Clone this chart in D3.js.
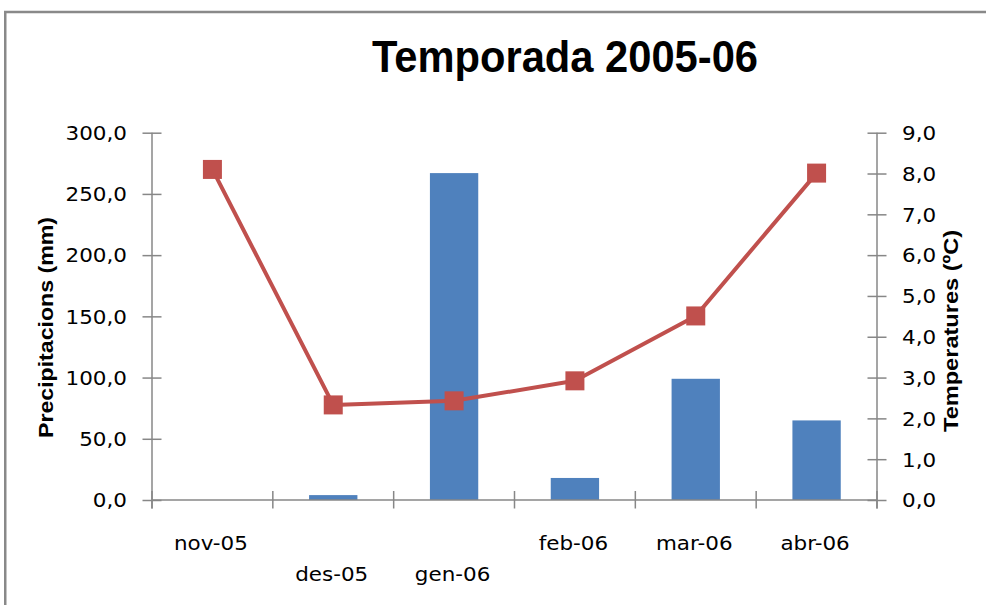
<!DOCTYPE html>
<html>
<head>
<meta charset="utf-8">
<script src="https://cdn.jsdelivr.net/npm/d3@7/dist/d3.min.js"></script>
<style>
  html, body { margin: 0; padding: 0; background: #fff; }
  svg { display: block; }
</style>
</head>
<body>
<svg id="chart" width="986" height="605"></svg>
<script>
// ---- data ----
const categories = ["nov-05", "des-05", "gen-06", "feb-06", "mar-06", "abr-06"];
const precipitation = [0, 4, 267, 18, 99, 65];        // mm (bars, left axis)
const temperature = [8.1, 2.33, 2.43, 2.92, 4.51, 8.01]; // ºC (line, right axis)
const leftTicks = [0, 50, 100, 150, 200, 250, 300];
const rightTicks = [0, 1, 2, 3, 4, 5, 6, 7, 8, 9];
const labelRows = [0, 1, 1, 0, 0, 0]; // staggered category labels

const titleText = "Temporada 2005-06";
const leftTitle = "Precipitacions (mm)";
const rightTitle = "Temperatures (ºC)";

// ---- layout ----
const svg = d3.select("#chart");
const plot = { left: 152, right: 877, top: 132.7, bottom: 500 };
const axisColor = "#878787";
const tickFont = "'DejaVu Sans', sans-serif";
const stretchK = 1.13;

function stretch(sel, k) {
  sel.each(function () {
    const w = this.getComputedTextLength();
    d3.select(this).attr("textLength", w * k).attr("lengthAdjust", "spacingAndGlyphs");
  });
}

const x = d3.scaleBand().domain(categories).range([plot.left, plot.right]).paddingInner(0).paddingOuter(0);
const barPad = 0.3; // each side fraction of band
const yL = d3.scaleLinear().domain([0, 300]).range([plot.bottom, plot.top]);
const yR = d3.scaleLinear().domain([0, 9]).range([plot.bottom, plot.top]);
const fmt = v => d3.format(".1f")(v).replace(".", ",");

// frame
svg.append("rect").attr("x", 5.25).attr("y", 12).attr("width", 1100).attr("height", 800)
  .attr("fill", "#fff").attr("stroke", "#898989").attr("stroke-width", 2.5);

// title
svg.append("text").attr("x", 565).attr("y", 71.7).attr("text-anchor", "middle")
  .attr("font-family", "'Liberation Sans', Arial, sans-serif").attr("font-weight", "bold")
  .attr("font-size", 44).attr("fill", "#000")
  .attr("textLength", 386).attr("lengthAdjust", "spacingAndGlyphs")
  .text(titleText);

// bars
svg.append("g").selectAll("rect").data(categories).join("rect")
  .attr("x", (d) => x(d) + x.bandwidth() * barPad)
  .attr("width", x.bandwidth() * (1 - 2 * barPad))
  .attr("y", (d, i) => yL(precipitation[i]))
  .attr("height", (d, i) => yL(0) - yL(precipitation[i]))
  .attr("fill", "#4F81BD");

// x axis line and ticks (at category boundaries)
const gx = svg.append("g");
gx.append("line").attr("x1", plot.left).attr("x2", plot.right).attr("y1", plot.bottom).attr("y2", plot.bottom)
  .attr("stroke", axisColor).attr("stroke-width", 1.5);
const bounds = categories.map(c => x(c)).concat([plot.right]);
gx.selectAll("line.t").data(bounds).join("line").attr("class", "t")
  .attr("x1", d => d).attr("x2", d => d).attr("y1", plot.bottom - 9).attr("y2", plot.bottom + 8.5)
  .attr("stroke", axisColor).attr("stroke-width", 1.5);
gx.selectAll("text").data(categories).join("text")
  .attr("x", d => x(d) + x.bandwidth() / 2 - 1.5)
  .attr("y", (d, i) => labelRows[i] ? 581 : 550)
  .attr("text-anchor", "middle").attr("font-family", tickFont).attr("font-size", 19).attr("fill", "#000")
  .text(d => d)
  .call(stretch, stretchK);

// left axis
const gL = svg.append("g").attr("transform", `translate(${plot.left},0)`)
  .call(d3.axisLeft(yL).tickValues(leftTicks).tickFormat(fmt).tickSize(9.5).tickSizeOuter(0).tickPadding(15.5));
gL.select(".domain").remove();
gL.append("line").attr("x1", 0).attr("x2", 0).attr("y1", plot.top).attr("y2", plot.bottom + 8.5)
  .attr("stroke", axisColor).attr("stroke-width", 1.5);
gL.selectAll(".tick line").attr("x1", 9.5).attr("stroke", axisColor).attr("stroke-width", 1.5);
gL.selectAll(".tick text").attr("font-family", tickFont).attr("font-size", 19).attr("fill", "#000")
  .attr("dy", "0.36em").call(stretch, stretchK);

// right axis
const gR = svg.append("g").attr("transform", `translate(${plot.right},0)`)
  .call(d3.axisRight(yR).tickValues(rightTicks).tickFormat(fmt).tickSize(9.5).tickSizeOuter(0).tickPadding(15.5));
gR.select(".domain").remove();
gR.append("line").attr("x1", 0).attr("x2", 0).attr("y1", plot.top).attr("y2", plot.bottom + 8.5)
  .attr("stroke", axisColor).attr("stroke-width", 1.5);
gR.selectAll(".tick line").attr("x1", -9.5).attr("stroke", axisColor).attr("stroke-width", 1.5);
gR.selectAll(".tick text").attr("font-family", tickFont).attr("font-size", 19).attr("fill", "#000")
  .attr("dy", "0.36em").call(stretch, stretchK);

// axis titles
svg.append("text").attr("transform", "translate(53,327.5) rotate(-90)").attr("text-anchor", "middle")
  .attr("font-family", "'Liberation Sans', Arial, sans-serif").attr("font-weight", "bold").attr("font-size", 20)
  .attr("fill", "#000").attr("textLength", 221).attr("lengthAdjust", "spacingAndGlyphs").text(leftTitle);
svg.append("text").attr("transform", "translate(958,331) rotate(-90)").attr("text-anchor", "middle")
  .attr("font-family", "'Liberation Sans', Arial, sans-serif").attr("font-weight", "bold").attr("font-size", 20)
  .attr("fill", "#000").attr("textLength", 202).attr("lengthAdjust", "spacingAndGlyphs").text(rightTitle);

// temperature line
const cx = (d) => x(d) + x.bandwidth() / 2;
const line = d3.line().x((d, i) => cx(categories[i])).y(d => yR(d));
svg.append("path").datum(temperature).attr("d", line)
  .attr("fill", "none").attr("stroke", "#C0504D").attr("stroke-width", 4).attr("stroke-linejoin", "round");
const ms = 19;
svg.append("g").selectAll("rect").data(temperature).join("rect")
  .attr("x", (d, i) => cx(categories[i]) - ms / 2)
  .attr("y", d => yR(d) - ms / 2)
  .attr("width", ms).attr("height", ms)
  .attr("fill", "#C0504D");
</script>
</body>
</html>
